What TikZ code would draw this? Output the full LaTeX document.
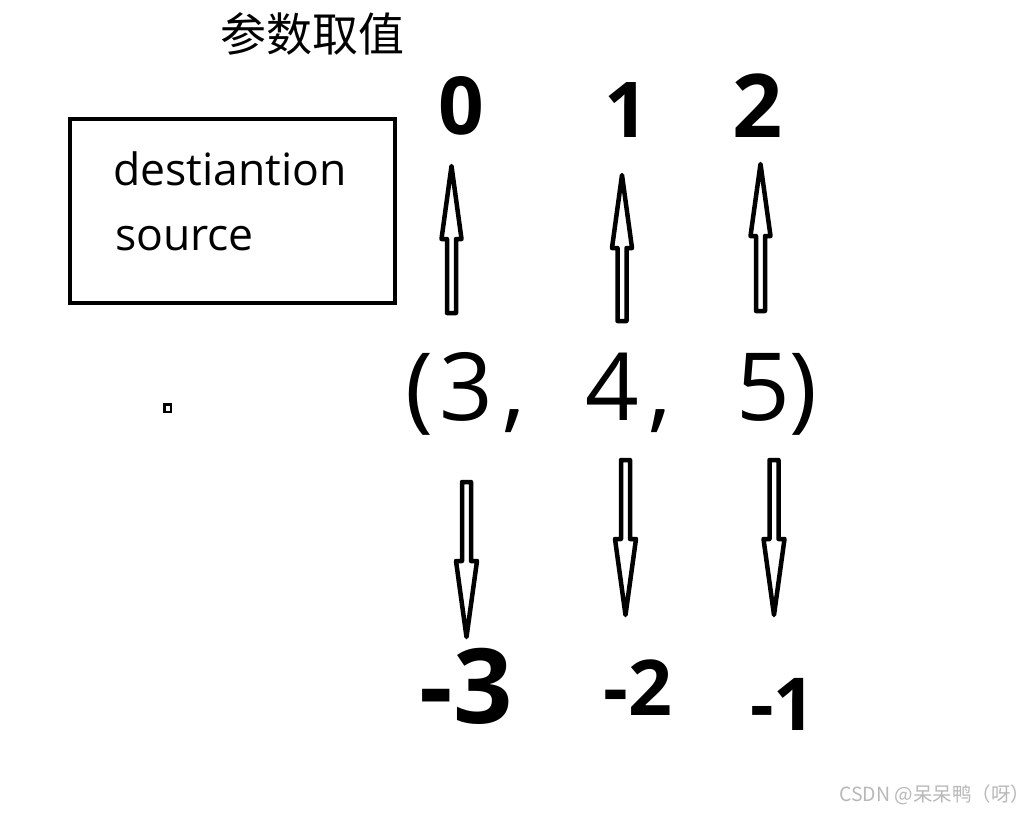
\documentclass[tikz,border=0pt]{standalone}
\usepackage{fontspec}
\setmainfont{Open Sans}
\newfontfamily\cjk{Noto Sans CJK SC}
\newcommand{\fsz}[1]{\fontsize{#1}{#1}\selectfont}
\tikzset{
  blockarr/.style={draw=black, line width=4.5pt, line join=round, fill=white},
  boxstyle/.style={draw=black, line width=4.5pt},
  lbl/.style={inner sep=0pt, outer sep=0pt},
  hand/.style={inner sep=0pt, outer sep=0pt, font=\bfseries},
}
\newcommand{\uparr}[4]{%
  \draw[blockarr] (#1-4.5,#4) -- (#1-4.5,#3) -- (#1-10,#3) -- (#1,#2) -- (#1+10,#3) -- (#1+4.5,#3) -- (#1+4.5,#4) -- cycle;}
\newcommand{\dnarr}[4]{%
  \draw[blockarr] (#1-4.5,#4) -- (#1-4.5,#3) -- (#1-10.5,#3) -- (#1,#2) -- (#1+10.5,#3) -- (#1+4.5,#3) -- (#1+4.5,#4) -- cycle;}
\begin{document}
\begin{tikzpicture}[x=1pt,y=-1pt]
\useasboundingbox[fill=white] (0,0) rectangle (1034,812);

% title
\node[lbl, font=\cjk\fsz{46}] (title) at (312,34) {参数取值};

% box
\draw[boxstyle] (70,119) rectangle (395,303);
\node[lbl, anchor=base west, font=\fsz{44.5}] (dest) at (113,185) {destiantion};
\node[lbl, anchor=base west, font=\fsz{44.5}] (src) at (115,250) {source};

% small square
\draw[line width=2.5pt] (164.5,404.5) rectangle (171,412);

% tuple
\node[lbl, anchor=base, font=\fsz{94}] (lp) at (419,420) {(};
\node[lbl, anchor=base, font=\fsz{94}] (d3) at (466,420) {3};
\node[lbl, anchor=base, font=\fsz{94}] (c1) at (514,420) {,};
\node[lbl, anchor=base, font=\fsz{94}] (d4) at (612,420) {4};
\node[lbl, anchor=base, font=\fsz{94}] (c2) at (660,420) {,};
\node[lbl, anchor=base, font=\fsz{94}] (d5) at (763,420) {5};
\node[lbl, anchor=base, font=\fsz{94}] (rp) at (803,420) {)};

% top values
\node[hand, font=\bfseries\fsz{80}] (v0) at (461,106) {0};
\node[hand, font=\bfseries\fsz{77}] (v1) at (626,110) {1};
\node[hand, font=\bfseries\fsz{88}] (v2) at (758,106) {2};

% bottom values
\node[hand, font=\bfseries\fsz{104}] (m3) at (466,686) {-3};
\node[hand, font=\bfseries\fsz{77}] (m2) at (638,688) {-2};
\node[hand, font=\bfseries\fsz{73}] (m1) at (783,704) {-1};

% up arrows
\uparr{451.5}{166}{239}{313}
\uparr{622}{175}{248}{321}
\uparr{760.5}{164}{236}{311}

% down arrows
\dnarr{466.5}{637}{561}{482}
\dnarr{625.5}{615}{539}{460}
\dnarr{774}{615}{539}{460}

% watermark
\node[lbl, anchor=east, font=\cjk\fsz{19.5}, text=black!28] (wm) at (1030,795) {CSDN @呆呆鸭（呀）};
\end{tikzpicture}
\end{document}
